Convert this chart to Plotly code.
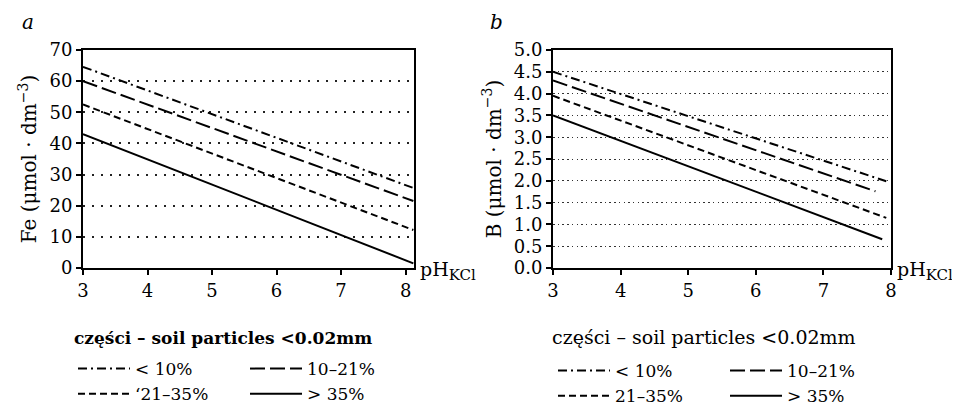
import plotly.graph_objects as go

# ---------------- data ----------------
series_names_a = ["&lt; 10%", "10–21%", "‘21–35%", "&gt; 35%"]
series_names_b = ["&lt; 10%", "10–21%", "21–35%", "&gt; 35%"]

ph_a_start = [3, 3, 3, 3]
ph_a_end = [8.12, 8.12, 8.12, 8.12]
fe_start = [64.6, 60.0, 52.5, 43.0]
fe_end = [25.7, 21.5, 12.2, 1.5]

ph_b_start = [3, 3, 3, 3]
ph_b_end = [7.93, 7.77, 7.93, 7.87]
b_start = [4.50, 4.30, 3.95, 3.50]
b_end = [1.99, 1.76, 1.15, 0.66]

fe_ticks = [0, 10, 20, 30, 40, 50, 60, 70]
b_ticks = [0.0, 0.5, 1.0, 1.5, 2.0, 2.5, 3.0, 3.5, 4.0, 4.5, 5.0]
ph_ticks = [3, 4, 5, 6, 7, 8]

legend_title = "części – soil particles &lt;0.02mm"

# ---------------- styles ----------------
dashes = ["9px,4px,2px,4px", "15px,5px", "7px,4px", "solid"]
FONT = "DejaVu Serif"
OFF = 8  # page body margin offset
W_FIG, H_FIG = 960 - OFF, 402 - OFF
L, R, T, B = 83 - OFF, 891 - OFF, 50 - OFF, 268 - OFF
PW, PH = R - L, B - T


def px(x):  # reference screen pixel -> paper x
    return (x - OFF - L) / PW


def py(y):  # reference screen pixel -> paper y
    return (B - (y - OFF)) / PH


fig = go.Figure()

leg_a = ["legend", "legend2", "legend", "legend2"]
leg_b = ["legend3", "legend4", "legend3", "legend4"]

for i in range(4):
    fig.add_trace(go.Scatter(
        x=[ph_a_start[i], ph_a_end[i]], y=[fe_start[i], fe_end[i]],
        mode="lines", name=series_names_a[i],
        line=dict(color="black", width=2, dash=dashes[i]),
        xaxis="x", yaxis="y", legend=leg_a[i], legendrank=i,
    ))
for i in range(4):
    fig.add_trace(go.Scatter(
        x=[ph_b_start[i], ph_b_end[i]], y=[b_start[i], b_end[i]],
        mode="lines", name=series_names_b[i],
        line=dict(color="black", width=2, dash=dashes[i]),
        xaxis="x2", yaxis="y2", legend=leg_b[i], legendrank=i,
    ))

axis_common = dict(
    showline=True, linecolor="black", linewidth=2, mirror=True,
    ticks="outside", ticklen=5, tickwidth=1.5, tickcolor="black",
    tickfont=dict(family=FONT, size=18, color="black"),
    zeroline=False,
)

a_right = 414
b_left = 553

fig.update_layout(
    width=W_FIG, height=H_FIG,
    template="none",
    paper_bgcolor="white", plot_bgcolor="white",
    margin=dict(l=L, r=W_FIG - R, t=T, b=H_FIG - B, autoexpand=False),
    showlegend=True,
    xaxis=dict(domain=[0, px(a_right)], range=[3, 8.13], tickvals=ph_ticks,
               showgrid=False, anchor="y", **axis_common),
    yaxis=dict(domain=[0, 1], range=[0, 70], tickvals=fe_ticks,
               showgrid=True, griddash="2px,7px", gridcolor="#222", gridwidth=1.5,
               anchor="x",
               title=dict(text="Fe (μmol · dm<sup>−3</sup>)",
                          font=dict(family=FONT, size=20, color="black"),
                          standoff=7),
               **axis_common),
    xaxis2=dict(domain=[px(b_left), 1], range=[3, 8], tickvals=ph_ticks,
                showgrid=False, anchor="y2", **axis_common),
    yaxis2=dict(domain=[0, 1], range=[0, 5], tickvals=b_ticks, tickformat=".1f",
                showgrid=True, griddash="1.5px,3.2px", gridcolor="#333", gridwidth=1.2,
                anchor="x2",
                title=dict(text="B (μmol · dm<sup>−3</sup>)",
                           font=dict(family=FONT, size=20, color="black"),
                           standoff=7),
                **axis_common),
)

leg_common = dict(
    orientation="v", xanchor="left", yanchor="top",
    bgcolor="rgba(0,0,0,0)", borderwidth=0, itemwidth=52,
    font=dict(family=FONT, size=17, color="black"),
    tracegroupgap=0, itemclick=False, itemdoubleclick=False,
)
leg_top = 351
fig.update_layout(
    legend=dict(x=px(73), y=py(leg_top), **leg_common),
    legend2=dict(x=px(245), y=py(leg_top), **leg_common),
    legend3=dict(x=px(553), y=py(leg_top + 2), **leg_common),
    legend4=dict(x=px(725), y=py(leg_top + 2), **leg_common),
)

ph_label = "pH<sub><span style='font-size:15px'>KCl</span></sub>"
annotations = [
    dict(text="<i>a</i>", x=px(20), y=py(22), xref="paper", yref="paper",
         xanchor="left", yanchor="middle", showarrow=False,
         font=dict(family=FONT, size=20, color="black")),
    dict(text="<i>b</i>", x=px(488), y=py(22), xref="paper", yref="paper",
         xanchor="left", yanchor="middle", showarrow=False,
         font=dict(family=FONT, size=20, color="black")),
    dict(text=ph_label, x=px(418), y=py(271), xref="paper", yref="paper",
         xanchor="left", yanchor="middle", showarrow=False,
         font=dict(family=FONT, size=19, color="black")),
    dict(text=ph_label, x=px(895), y=py(271), xref="paper", yref="paper",
         xanchor="left", yanchor="middle", showarrow=False,
         font=dict(family=FONT, size=19, color="black")),
    dict(text="<b>" + legend_title + "</b>", x=px(72), y=py(338), xref="paper", yref="paper",
         xanchor="left", yanchor="middle", showarrow=False,
         font=dict(family=FONT, size=17, color="black")),
    dict(text=legend_title, x=px(550), y=py(337), xref="paper", yref="paper",
         xanchor="left", yanchor="middle", showarrow=False,
         font=dict(family=FONT, size=19, color="black")),
]
fig.update_layout(annotations=annotations)

fig.write_html("out.html")
